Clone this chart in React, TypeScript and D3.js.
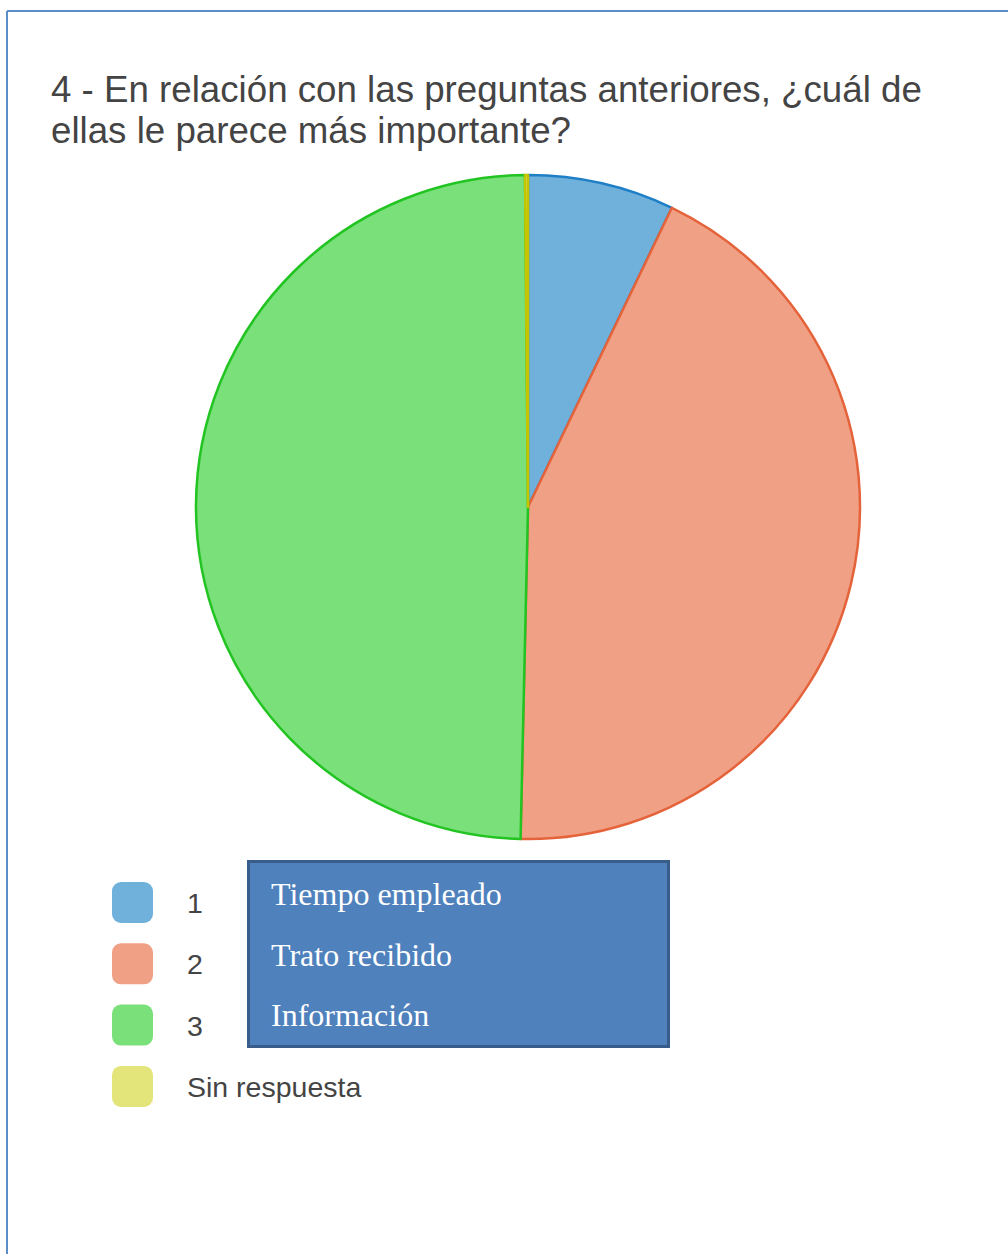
import React from "react";
import * as d3 from "d3";

const categories = ["1", "2", "3", "Sin respuesta"];
const counts = [50, 303, 347, 1];
const fills = ["#70b1dc", "#f0a085", "#7ae07a", "#e3e57a"];
const strokes = ["#1f7fc6", "#e5633a", "#22c422", "#c4c400"];
const boxLines = ["Tiempo empleado", "Trato recibido", "Información"];
const titleLines = [
  "4 - En relación con las preguntas anteriores, ¿cuál de",
  "ellas le parece más importante?",
];

export default function App() {
  const W = 1008, H = 1254;
  const cx = 528, cy = 507, r = 332;
  const pie = d3.pie<number>().sort(null).value((d) => d)(counts);
  const arc = d3.arc<d3.PieArcDatum<number>>().innerRadius(0).outerRadius(r);
  const swatchY = (c: string) => 882 + categories.indexOf(c) * 61.3;
  return (
    <svg width={W} height={H} style={{ position: "absolute", left: 0, top: 0, background: "#fff" }}>
      <line x1={7} y1={11} x2={W} y2={11} stroke="#5b8dc9" strokeWidth={2} />
      <line x1={7} y1={11} x2={7} y2={H} stroke="#5b8dc9" strokeWidth={2} />
      {titleLines.map((t, i) => (
        <text key={i} x={51} y={102 + i * 41} fontFamily="Liberation Sans, Arial, sans-serif" fontSize={36.7} fill="#444">
          {t}
        </text>
      ))}
      <g transform={`translate(${cx},${cy})`}>
        {pie.map((p, i) => (
          <path key={i} d={arc(p) || ""} fill={fills[i]} stroke={strokes[i]} strokeWidth={2.5} strokeLinejoin="round" />
        ))}
      </g>
      {categories.map((c, i) => (
        <g key={c}>
          <rect x={112} y={swatchY(c)} width={41} height={41} rx={9} fill={fills[i]} />
          <text x={187} y={swatchY(c) + 31} fontFamily="Liberation Sans, Arial, sans-serif" fontSize={28.5} fill="#444">
            {c}
          </text>
        </g>
      ))}
      <rect x={248.5} y={861.5} width={420} height={185} fill="#4f81bd" stroke="#385d8a" strokeWidth={3} />
      {boxLines.map((t, i) => (
        <text key={t} x={271} y={905 + i * 60.5} fontFamily="Liberation Serif, Times New Roman, serif" fontSize={32} fill="#fff">
          {t}
        </text>
      ))}
    </svg>
  );
}
